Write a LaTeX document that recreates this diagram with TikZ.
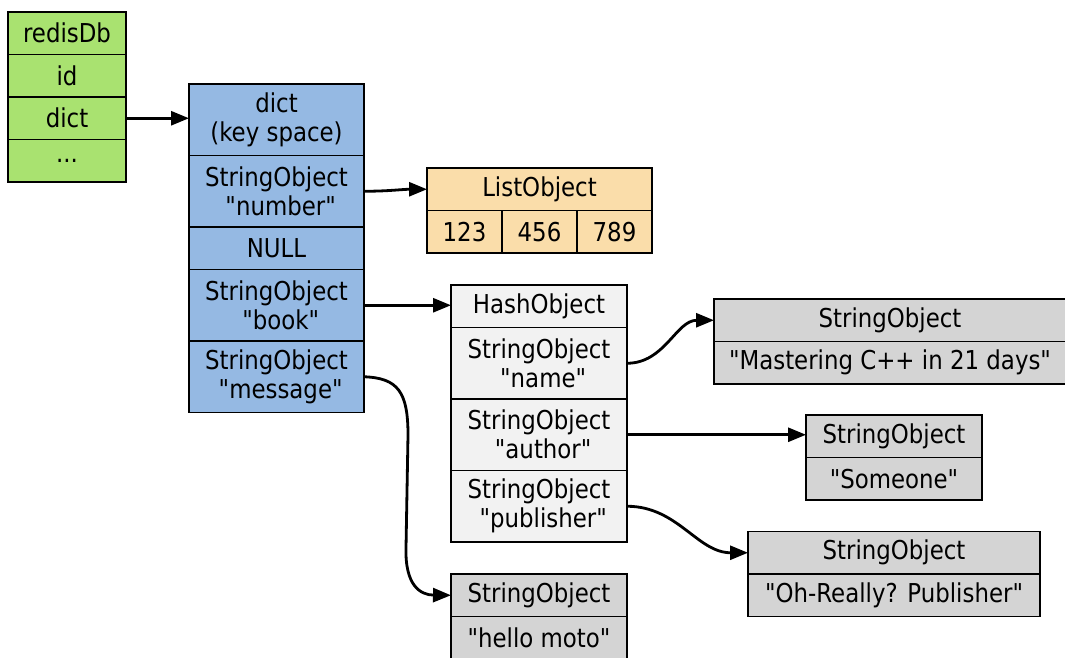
\documentclass[tikz,border=0pt]{standalone}
\usepackage{fontspec}
\setmainfont{DejaVu Sans}[Ligatures=TeXOff,FakeStretch=0.88]
\usetikzlibrary{arrows.meta,positioning}
\definecolor{DbGreen}{RGB}{169,226,112}
\definecolor{DictBlue}{RGB}{149,185,227}
\definecolor{ListOrange}{RGB}{250,221,170}
\definecolor{HashGray}{RGB}{242,242,242}
\definecolor{StrGray}{RGB}{212,212,212}
\newcommand{\lead}{\hspace*{.32em}}

\begin{document}
\begin{tikzpicture}[x=1pt,y=-1pt,
	cell/.style={draw,line width=1.2pt,inner sep=0pt,outer sep=0pt,align=center,
		minimum height=42.5,font=\fontsize{26}{29}\selectfont},
	tall/.style={cell,minimum height=71.5},
	edge/.style={line width=2.8pt,-{Triangle[length=18pt,width=14pt]}}]
	\useasboundingbox (0,0) rectangle (1065,657);
	
	% redisDb
	\node[cell,fill=DbGreen,minimum width=118,anchor=north west] (db) at (8,12) {redisDb};
	\node[cell,fill=DbGreen,minimum width=118,below=0pt of db] (dbid) {id};
	\node[cell,fill=DbGreen,minimum width=118,below=0pt of dbid] (dbdict) {dict};
	\node[cell,fill=DbGreen,minimum width=118,below=0pt of dbdict] (dbmore) {...};
	
	% key space
	\node[tall,fill=DictBlue,minimum width=175,anchor=north west] (dict) at (189,84) {dict\\(key space)};
	\node[tall,fill=DictBlue,minimum width=175,below=0pt of dict] (knum) {StringObject\\\lead"number"};
	\node[cell,fill=DictBlue,minimum width=175,below=0pt of knum] (knull) {NULL};
	\node[tall,fill=DictBlue,minimum width=175,below=0pt of knull] (kbook) {StringObject\\\lead"book"};
	\node[tall,fill=DictBlue,minimum width=175,below=0pt of kbook] (kmsg) {StringObject\\\lead"message"};
	
	% list
	\node[cell,fill=ListOrange,minimum width=225,anchor=north west] (lhead) at (427,168) {ListObject};
	\node[cell,fill=ListOrange,minimum width=75,anchor=north west] (l1) at (lhead.south west) {123};
	\node[cell,fill=ListOrange,minimum width=75,right=0pt of l1] (l2) {456};
	\node[cell,fill=ListOrange,minimum width=75,right=0pt of l2] (l3) {789};
	
	% hash
	\node[cell,fill=HashGray,minimum width=176,anchor=north west] (hhead) at (451,285) {HashObject};
	\node[tall,fill=HashGray,minimum width=176,below=0pt of hhead] (hname) {StringObject\\\lead"name"};
	\node[tall,fill=HashGray,minimum width=176,below=0pt of hname] (hauthor) {StringObject\\\lead"author"};
	\node[tall,fill=HashGray,minimum width=176,below=0pt of hauthor] (hpub) {StringObject\\\lead"publisher"};
	
	% string values
	\node[cell,fill=StrGray,minimum width=352,anchor=north west] (sname) at (714,299) {StringObject};
	\node[cell,fill=StrGray,minimum width=352,below=0pt of sname] (snameval) {"Mastering C++ in 21 days"};
	\node[cell,fill=StrGray,minimum width=176,anchor=north west] (sauth) at (806,415) {StringObject};
	\node[cell,fill=StrGray,minimum width=176,below=0pt of sauth] (sauthval) {"Someone"};
	\node[cell,fill=StrGray,minimum width=292,anchor=north west] (spub) at (748,531.5) {StringObject};
	\node[cell,fill=StrGray,minimum width=292,below=0pt of spub] (spubval) {"Oh-Really? Publisher"};
	\node[cell,fill=StrGray,minimum width=176,anchor=north west] (smsg) at (451,574) {StringObject};
	\node[cell,fill=StrGray,minimum width=176,below=0pt of smsg] (smsgval) {"hello moto"};
	
	% pointers
	\draw[edge] (dbdict.east) -- (dbdict.east -| dict.west);
	\draw[edge] (knum.east) to[out=0,in=180] (lhead.west);
	\draw[edge] (kbook.east) -- (kbook.east -| hhead.west);
	\draw[edge] (kmsg.east) .. controls (398,378) and (408,392) .. (408,435)
		-- (406,548) .. controls (405,585) and (420,595) .. (smsg.west);
	\draw[edge] (hname.east) to[out=0,in=180] (sname.west);
	\draw[edge] (hauthor.east) -- (hauthor.east -| sauth.west);
	\draw[edge] (hpub.east) to[out=0,in=180] (spub.west);
\end{tikzpicture}
\end{document}
